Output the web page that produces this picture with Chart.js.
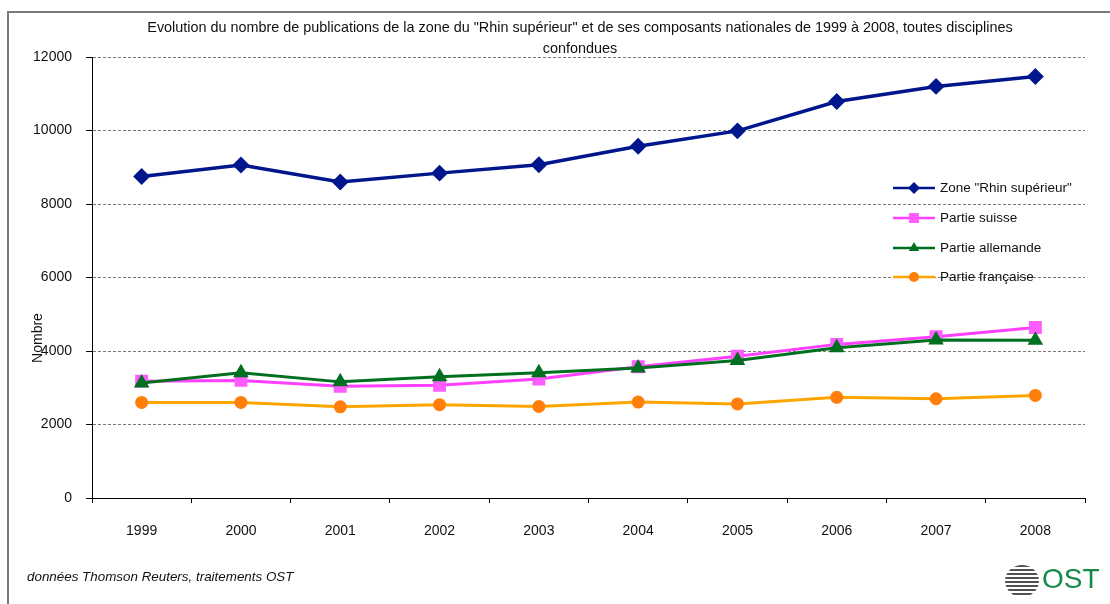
<!DOCTYPE html>
<html>
<head>
<meta charset="utf-8">
<script src="https://cdn.jsdelivr.net/npm/chart.js@4/dist/chart.umd.min.js"></script>
<style>
    body { margin: 0; background: #fff; font-family: "Liberation Sans", Arial, sans-serif; }
    #wrap { position: relative; width: 1110px; height: 604px; overflow: hidden; }
    #frame { position: absolute; left: 7px; top: 11px; width: 1110px; height: 700px;
             border-left: 2px solid #7a7a7a; border-top: 2px solid #7a7a7a; }
    #chart { position: absolute; left: 0; top: 0; }
    #title { position: absolute; left: 80px; top: 17px; width: 1000px; text-align: center;
             font-size: 14.4px; line-height: 21px; color: #111; }
    #source { position: absolute; left: 27px; top: 569px; font-size: 13.4px; font-style: italic; color: #111; }
    #logo { position: absolute; left: 1005px; top: 563px; height: 36px; }
    #globe { position: absolute; left: 0; top: 2px; width: 34px; height: 32px; border-radius: 50%;
             background: repeating-linear-gradient(180deg, #333 0 2px, #fff 2px 4px); opacity: .85; }
    #ost { position: absolute; left: 37px; top: 0px; font-size: 28px; color: #168a48; letter-spacing: 0px; }
</style>
</head>
<body>
<div id="wrap">
    <div id="frame"></div>
    <canvas id="chart" width="1110" height="604"></canvas>
    <div id="title">Evolution du nombre de publications de la zone du "Rhin supérieur" et de ses composants nationales de 1999 à 2008, toutes disciplines<br>confondues</div>
    <div id="source">données Thomson Reuters, traitements OST</div>
    <div id="logo"><div id="globe"></div><div id="ost">OST</div></div>
</div>
<script>
    // Data
    const years = ['1999', '2000', '2001', '2002', '2003', '2004', '2005', '2006', '2007', '2008'];
    const rhin = [8750, 9060, 8600, 8840, 9070, 9570, 9990, 10790, 11200, 11470];
    const suisse = [3180, 3200, 3040, 3070, 3240, 3570, 3860, 4180, 4390, 4640];
    const allemande = [3130, 3410, 3160, 3300, 3410, 3540, 3740, 4090, 4300, 4290];
    const francaise = [2600, 2600, 2480, 2540, 2490, 2610, 2560, 2740, 2700, 2790];
    const seriesNames = ['Zone "Rhin supérieur"', 'Partie suisse', 'Partie allemande', 'Partie française'];
    const yTicks = [0, 2000, 4000, 6000, 8000, 10000, 12000];

    const FONT = '"Liberation Sans", Arial, sans-serif';

    // draw one legend marker by hand
    const drawMarker = (ctx, style, x, y, r, color) => {
        ctx.fillStyle = color;
        ctx.beginPath();
        if (style === 'rectRot') {
            ctx.moveTo(x, y - r); ctx.lineTo(x + r, y); ctx.lineTo(x, y + r); ctx.lineTo(x - r, y);
        } else if (style === 'rect') {
            const s = r * Math.SQRT1_2;
            ctx.rect(x - s, y - s, 2 * s, 2 * s);
        } else if (style === 'triangle') {
            ctx.moveTo(x, y - r); ctx.lineTo(x + r * 0.87, y + r * 0.5); ctx.lineTo(x - r * 0.87, y + r * 0.5);
        } else {
            ctx.arc(x, y, r, 0, Math.PI * 2);
        }
        ctx.closePath();
        ctx.fill();
    };

    // Legend inside the plot + y axis title
    const extrasPlugin = {
        id: 'extras',
        afterDraw(chart) {
            const ctx = chart.ctx;
            ctx.save();
            const legendY = [188, 218, 248, 277];
            chart.data.datasets.forEach((ds, i) => {
                const y = legendY[i];
                ctx.strokeStyle = ds.borderColor;
                ctx.lineWidth = 2.5;
                ctx.beginPath();
                ctx.moveTo(893, y);
                ctx.lineTo(935, y);
                ctx.stroke();
                drawMarker(ctx, ds.pointStyle, 914, y, ds.pointRadius, ds.pointBackgroundColor);
                ctx.fillStyle = '#111';
                ctx.font = '13.5px ' + FONT;
                ctx.textAlign = 'left';
                ctx.textBaseline = 'middle';
                ctx.fillText(ds.label, 940, y);
            });

            ctx.translate(38, 338);
            ctx.rotate(-Math.PI / 2);
            ctx.font = '14px ' + FONT;
            ctx.textAlign = 'center';
            ctx.textBaseline = 'middle';
            ctx.fillStyle = '#111';
            ctx.fillText('Nombre', 0, 0);
            ctx.restore();
        }
    };

    const ctx = document.getElementById('chart');
    new Chart(ctx, {
        type: 'line',
        data: {
            labels: years,
            datasets: [
                { label: seriesNames[0], data: rhin, order: 0, borderColor: '#00168c', pointBackgroundColor: '#00168c',
                  pointBorderColor: '#00168c', pointStyle: 'rectRot', pointRadius: 6, borderWidth: 3.5 },
                { label: seriesNames[1], data: suisse, order: 3, borderColor: '#ff40ff', pointBackgroundColor: '#ff5cff',
                  pointBorderColor: '#ff5cff', pointStyle: 'rect', pointRadius: 7, borderWidth: 3 },
                { label: seriesNames[2], data: allemande, order: 2, borderColor: '#007020', pointBackgroundColor: '#007020',
                  pointBorderColor: '#007020', pointStyle: 'triangle', pointRadius: 6, borderWidth: 3 },
                { label: seriesNames[3], data: francaise, order: 1, borderColor: '#ffa500', pointBackgroundColor: '#ff7f0a',
                  pointBorderColor: '#ff7f0a', pointStyle: 'circle', pointRadius: 5, borderWidth: 3 }
            ]
        },
        options: {
            responsive: false,
            animation: false,
            devicePixelRatio: 1,
            layout: { padding: { left: 0, top: 57, right: 25, bottom: 66 } },
            plugins: { legend: { display: false }, tooltip: { enabled: false } },
            scales: {
                x: {
                    offset: true,
                    afterFit: (scale) => { scale.height = 40; },
                    grid: { offset: true, drawOnChartArea: false, tickLength: 5, tickColor: '#000' },
                    border: { color: '#000', width: 1 },
                    ticks: { color: '#111', font: { family: FONT, size: 14 }, padding: 20, maxRotation: 0 }
                },
                y: {
                    min: 0,
                    max: 12000,
                    afterFit: (scale) => { scale.width = 92; },
                    afterBuildTicks: (scale) => { scale.ticks = yTicks.map(v => ({ value: v })); },
                    grid: { color: '#7a7a7a', tickBorderDash: [], tickColor: '#000', tickLength: 6 },
                    border: { color: '#000', width: 1, dash: [3, 2] },
                    ticks: { color: '#111', font: { family: FONT, size: 14 }, padding: 14, callback: (v) => String(v) }
                }
            }
        },
        plugins: [extrasPlugin]
    });
</script>
</body>
</html>
